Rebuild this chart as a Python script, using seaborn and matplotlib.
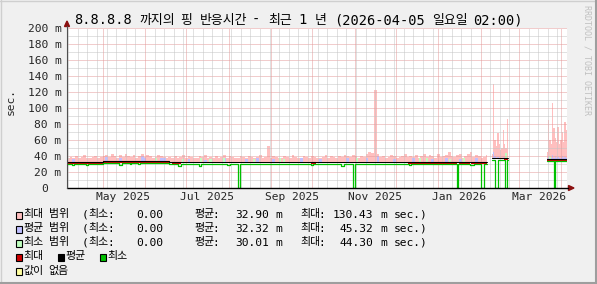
import matplotlib
matplotlib.use("Agg")
import matplotlib.pyplot as plt
import matplotlib.dates as mdates
from matplotlib.patches import Rectangle, Polygon
from matplotlib.lines import Line2D
from matplotlib.transforms import blended_transform_factory
import seaborn as sns
import numpy as np
import pandas as pd
from datetime import datetime, timedelta

# ---------------- data (days since 2025-04-05 02:00) ----------------
TITLE = "8.8.8.8 까지의 핑 반응시간 - 최근 1 년 (2026-04-05 일요일 02:00)"
START = datetime(2025, 4, 5, 2, 0)
SPAN_DAYS = 365

# segment 1 : every 2 days, day 0 .. 306
seg1_end = 306.6
pink1 = [38, 39, 37, 40, 38, 39, 41, 38, 37, 39, 40, 38, 39,
         40, 41, 39, 42, 40, 38, 41, 39, 42, 40, 39, 41, 38, 40, 42, 39, 41, 40, 38, 39, 41, 40, 39, 38,
         39, 38, 40, 37, 39, 41, 38, 40, 39, 37, 38, 40, 39, 41, 38, 39, 37, 40, 38, 39, 41, 38, 40, 39, 37, 38, 40, 39,
         38, 40, 39, 37, 39, 41, 38, 39, 52, 38, 40, 39, 37, 38, 40, 39, 38, 41, 39, 37, 38, 40, 39, 38, 40, 39, 37, 38, 39, 41, 38, 40, 39, 38, 40,
         39, 41, 40, 39, 41, 40, 38, 40, 39,
         43, 45, 44,
         123,
         42, 39, 40, 38, 39, 41, 40, 38, 39, 40, 42, 39,
         40, 39, 41, 38, 40, 43, 39, 41, 40, 38, 42, 39, 40, 41, 45, 40, 39, 41, 43, 38, 40, 42, 45, 39, 41, 40, 38, 39, 41]
base1 = 32.0
blue1_days = [4, 28, 38, 54, 56, 68, 70, 88, 100, 114, 130, 138, 150, 170, 184, 204, 218, 226, 238, 252, 266, 276, 286, 298]
blue1_tops = [36, 39, 37, 40, 38, 38, 37, 36, 35, 37, 36, 37, 36, 38, 36, 37, 38, 40, 36, 37, 36, 38, 36, 37]
lgreen1_days = [64, 84, 97, 104, 114, 136, 155, 158, 211, 257, 262, 279, 289]
lgreen1_tops = [38, 36, 37, 36, 37, 36, 37, 36, 37, 38, 37, 36, 37]

# segment 2 : daily, day 310 .. 321
seg2_start, seg2_end = 310.0, 322.0
pink2 = [42, 130, 60, 52, 69, 55, 48, 50, 72, 55, 50, 86]
blue2 = [38, 45, 40, 38, 39, 37, 38, 37, 39, 38, 37, 38]
base2 = 36.0
lgreen2_days = [320]
lgreen2_tops = [44.3]

# segment 3 : daily, day 350 .. 364
seg3_start, seg3_end = 350.4, 365.0
pink3 = [45, 85, 60, 55, 106, 75, 62, 58, 76, 55, 60, 70, 58, 82, 72]
blue3 = [38, 40, 39, 37, 41, 38, 40, 38, 39, 37, 38, 40, 38, 39, 38]
base3 = 35.0
lgreen3_days = [352]
lgreen3_tops = [40]

# average (black) line, step change points
black1_days = [0, 26, 74.7]
black1_vals = [32.3, 33.3, 32.3]
black2_vals = [37.0]
black3_vals = [36.0]

# max (red) line, visible stretches (start, end, value)
red_segments = [(0, 26, 31.5), (26, 74.7, 32.5), (77, 83, 31.5), (178, 182, 31.5),
                (249, 285, 31.5), (286, 294, 31.5), (295, 306.6, 31.5),
                (319, 322, 36.0), (350.4, 365, 35.0)]

# min (green) line, step change points
green1_days = [0, 4, 5, 14, 15, 26, 38, 40, 46, 47, 52, 53, 74.7, 81, 83, 96, 98, 117, 119,
               125, 126.6, 178, 179.5, 200, 202, 209, 210.6, 250, 251, 285, 285.7, 294, 297, 302.5, 304.1]
green1_vals = [30.0, 28.8, 30.0, 28.8, 30.0, 31.3, 28.5, 31.3, 29.5, 31.3, 29.5, 31.3, 30.0, 27.8, 30.0, 27.2, 30.0, 28.8, 30.0,
               0.0, 30.0, 28.8, 30.0, 27.2, 30.0, 0.0, 30.0, 29.0, 30.0, 0.0, 30.0, 28.8, 30.0, 0.0, 30.0]
green2_days = [310, 312.7, 314.3, 319.5, 321.1]
green2_vals = [34.5, 0.0, 34.5, 0.0, 34.5]
green3_days = [350.4, 355.3, 356.0]
green3_vals = [33.5, 0.0, 33.5]

y_ticks = [0, 20, 40, 60, 80, 100, 120, 140, 160, 180, 200]
y_labels = ["0", "20 m", "40 m", "60 m", "80 m", "100 m", "120 m", "140 m", "160 m", "180 m", "200 m"]
x_label_months = ["2025-05-01", "2025-07-01", "2025-09-01", "2025-11-01", "2026-01-01", "2026-03-01"]
x_labels = ["May 2025", "Jul 2025", "Sep 2025", "Nov 2025", "Jan 2026", "Mar 2026"]

legend_rows = [("#FFBFBF", "최대 범위", "32.90 m", "130.43 m sec.)"),
               ("#BFBFFF", "평균 범위", "32.32 m", " 45.32 m sec.)"),
               ("#BFFFBF", "최소 범위", "30.01 m", " 44.30 m sec.)")]

# ---------------- styling ----------------
W, H = 597, 284
BACK, CANVAS = "#F0F0F0", "#FFFFFF"
GRID, MGRID = "#C4C4C4", "#E49A9A"
PINK, BLUE, LGREEN = "#FFBFBF", "#BFBFFF", "#BFFFBF"
RED, GREEN = "#CC0000", "#00C000"
MONO, KR = "DejaVu Sans Mono", "Noto Sans CJK KR"

sns.set_style("white")
plt.rcParams["font.family"] = [MONO, KR]

fig = plt.figure(figsize=(W / 100, H / 100), dpi=100, facecolor=BACK)
L, R, T, B = 67, 567, 28, 188
ax = fig.add_axes([L / W, 1 - B / H, (R - L) / W, (B - T) / H])
ax.set_facecolor(CANVAS)
for s in ax.spines.values():
    s.set_visible(False)

T0 = mdates.date2num(START)


def X(d):
    return T0 + np.asarray(d, dtype=float)


def fy(y):
    return 1 - y / H


# grid
dot = (0, (1, 1))
for v in range(10, 201, 10):
    ax.axhline(v, color=MGRID if v % 20 == 0 else GRID, lw=0.72, ls=dot, zorder=2)
months = pd.date_range("2025-05-01", "2026-04-01", freq="MS")
weeks = pd.date_range("2025-04-06", "2026-04-05", freq="W-SUN")
mset = set(m.date() for m in months)
for w in weeks:
    if w.date() not in mset:
        ax.axvline(mdates.date2num(w), color=GRID, lw=0.72, ls=dot, zorder=2)
for m in months:
    ax.axvline(mdates.date2num(m), color=MGRID, lw=0.72, ls=dot, zorder=2)


def step_area(days, tops, end, base, color):
    xs = np.append(np.asarray(days, float), end)
    ys = np.append(np.asarray(tops, float), tops[-1])
    ax.fill_between(X(xs), base, ys, step="post", color=color, lw=0, zorder=1)


def patches(days, tops, width, base, color):
    for d, t in zip(days, tops):
        ax.fill_between(X([d, d + width]), base, [t, t], color=color, lw=0, zorder=1.2)


# areas
d1 = np.arange(len(pink1)) * 2.0
step_area(d1, pink1, seg1_end, base1, PINK)
patches(blue1_days, blue1_tops, 2, base1, BLUE)
patches(lgreen1_days, lgreen1_tops, 1.5, base1, LGREEN)

d2 = seg2_start + np.arange(len(pink2))
step_area(d2, pink2, seg2_end, base2, PINK)
step_area(d2, blue2, seg2_end, base2, BLUE)
patches(lgreen2_days, lgreen2_tops, 1, base2, LGREEN)

d3 = np.floor(seg3_start) + np.arange(len(pink3))
d3[0] = seg3_start
step_area(d3, pink3, seg3_end, base3, PINK)
step_area(d3, blue3, seg3_end, base3, BLUE)
patches(lgreen3_days, lgreen3_tops, 1, base3, LGREEN)


def step_line(days, vals, end, color, lw, z):
    xs = np.append(np.asarray(days, float), end)
    ys = np.append(np.asarray(vals, float), vals[-1])
    sns.lineplot(x=X(xs), y=ys, ax=ax, drawstyle="steps-post", color=color,
                 linewidth=lw, zorder=z, estimator=None)


# red (max) line
for s0, s1, v in red_segments:
    sns.lineplot(x=X([s0, s1]), y=[v, v], ax=ax, color=RED, linewidth=1.5,
                 zorder=3, estimator=None, solid_capstyle="butt")
# black (avg) line
step_line(black1_days, black1_vals, seg1_end, "black", 0.75, 4)
step_line([seg2_start], black2_vals, seg2_end, "black", 0.75, 4)
step_line([seg3_start], black3_vals, seg3_end, "black", 0.75, 4)
# green (min) line
step_line(green1_days, green1_vals, seg1_end, GREEN, 0.9, 5)
step_line(green2_days, green2_vals, seg2_end, GREEN, 0.9, 5)
step_line(green3_days, green3_vals, seg3_end, GREEN, 0.9, 5)

ax.set_xlim(T0, T0 + SPAN_DAYS)
ax.set_ylim(0, 200)
ax.set_xticks([])
ax.set_yticks([])
ax.set_xlabel("")
ax.set_ylabel("")

# axes lines and arrows
fig.add_artist(Line2D([L / W, (R + 1) / W], [fy(B), fy(B)], color="black", lw=1.0))
fig.add_artist(Line2D([L / W, L / W], [fy(B), fy(T - 2)], color="#505050", lw=0.8))
ARROW = "#8B1010"
fig.add_artist(Polygon([(64.5 / W, fy(26.5)), (69.5 / W, fy(26.5)), (67 / W, fy(21))],
                       closed=True, color=ARROW, transform=fig.transFigure))
fig.add_artist(Polygon([(568.5 / W, fy(185.5)), (568.5 / W, fy(190.5)), (574 / W, fy(188))],
                       closed=True, color=ARROW, transform=fig.transFigure))

# frame
fig.add_artist(Line2D([0, 1], [fy(0.5), fy(0.5)], color="#CFCFCF", lw=1.0))
fig.add_artist(Line2D([0.5 / W, 0.5 / W], [0, 1], color="#CFCFCF", lw=1.0))
fig.add_artist(Line2D([0, 1], [fy(283), fy(283)], color="#9E9E9E", lw=1.5))
fig.add_artist(Line2D([595.5 / W, 595.5 / W], [0, 1], color="#9E9E9E", lw=1.5))


# ---------- text helpers ----------
def is_kr(c):
    return "\uac00" <= c <= "\ud7a3" or "\u3130" <= c <= "\u318f"


def mixed(x, y, s, lat_pt, kr_pt, lat_adv, kr_adv, color="black"):
    cur = x
    tok, tok_x, tok_kr = "", x, False

    def flush():
        if tok:
            fig.text(tok_x / W, fy(y), tok, family=KR if tok_kr else MONO,
                     fontsize=kr_pt if tok_kr else lat_pt, ha="left", va="baseline", color=color)

    for c in s:
        if c == " ":
            flush()
            tok = ""
            cur += lat_adv
            continue
        k = is_kr(c)
        if tok and k != tok_kr:
            flush()
            tok = ""
        if not tok:
            tok_x, tok_kr = cur, k
        tok += c
        cur += kr_adv if k else lat_adv
    flush()


# title
mixed(74, 24, TITLE, 9.8, 9.3, 8.18, 11.0)

# y labels
LAT, LADV = 8.1, 6.78
for v, lab in zip(y_ticks, y_labels):
    yp = B - v * 0.8 + 4
    xr = 61.5 if lab != "0" else 61.5 - 2 * LADV
    fig.text(xr / W, fy(yp), lab, family=MONO, fontsize=LAT, ha="right", va="baseline")
fig.text(10.5 / W, fy(101), "sec.", family=MONO, fontsize=LAT, rotation=90, ha="center", va="center")

# x labels
tr = blended_transform_factory(ax.transData, fig.transFigure)
for m, lab in zip(x_label_months, x_labels):
    xd = mdates.date2num(pd.Timestamp(m)) + 15
    ax.text(xd, fy(200.3), lab, transform=tr, family=MONO, fontsize=LAT, ha="center", va="baseline")

# watermark
fig.text(587 / W, fy(5), "RRDTOOL / TOBI OETIKER", family=MONO, fontsize=6.0, color="#C0C0C0",
         rotation=270, ha="center", va="top")


# legend
def box(x0, ybase, color):
    fig.add_artist(Rectangle((x0 / W, fy(ybase + 1)), 6.5 / W, 7 / H, facecolor=color,
                             edgecolor="black", lw=0.8, transform=fig.transFigure))


KPT, KADV = 7.9, 9.4
for i, (col, name, avg, mx) in enumerate(legend_rows):
    yb = 217.5 + 14 * i
    box(16, yb, col)
    mixed(23, yb, name, LAT, KPT, LADV, KADV)
    mixed(82, yb, "(최소:", LAT, KPT, LADV, KADV)
    mixed(136, yb, "0.00", LAT, KPT, LADV, KADV)
    mixed(194, yb, "평균:", LAT, KPT, LADV, KADV)
    mixed(235, yb, avg, LAT, KPT, LADV, KADV)
    mixed(300, yb, "최대:", LAT, KPT, LADV, KADV)
    mixed(333, yb, mx, LAT, KPT, LADV, KADV)

yb = 217.5 + 14 * 3
box(16, yb, RED)
mixed(23, yb, "최대", LAT, KPT, LADV, KADV)
box(57.5, yb, "black")
mixed(65, yb, "평균", LAT, KPT, LADV, KADV)
box(99.5, yb, GREEN)
mixed(107, yb, "최소", LAT, KPT, LADV, KADV)
yb = 217.5 + 14 * 4
box(16, yb, "#FFFFA0")
mixed(23, yb, "값이 없음", LAT, KPT, LADV, KADV)

fig.savefig("out.png", dpi=100, facecolor=BACK)
